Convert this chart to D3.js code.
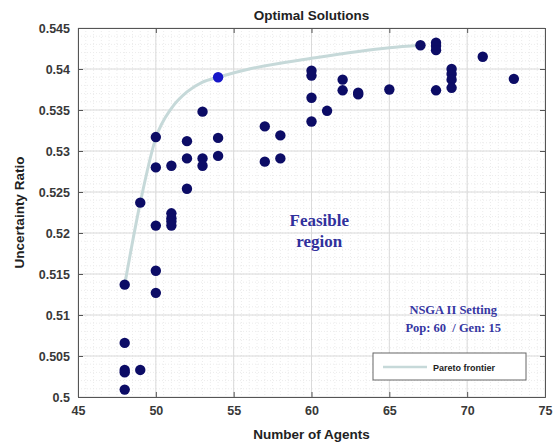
<!DOCTYPE html>
<html>
<head>
<meta charset="utf-8">
<script src="https://cdn.jsdelivr.net/npm/d3@7"></script>
<style>
  body { margin: 0; background: #fff; }
  svg text { font-family: "Liberation Sans", Arial, sans-serif; }
</style>
</head>
<body>
<div id="main"></div>
<script>
// solutions
var agents = [48, 48, 48, 48, 48, 49, 49, 50, 50, 50, 50, 50, 51, 51, 51, 51, 51,
    52, 52, 52, 53, 53, 53, 54, 54, 54, 57, 57, 58, 58, 60, 60, 60, 60, 61, 62, 62,
    63, 63, 65, 67, 68, 68, 68, 68, 69, 69, 69, 69, 71, 73];
var ratio = [0.5137, 0.5066, 0.5033, 0.5030, 0.5009, 0.5237, 0.5033,
    0.5317, 0.5280, 0.5209, 0.5154, 0.5127,
    0.5282, 0.5224, 0.5218, 0.5214, 0.5209,
    0.5312, 0.5291, 0.5254, 0.5348, 0.5291, 0.5282,
    0.5390, 0.5316, 0.5294, 0.5330, 0.5287, 0.5319, 0.5291,
    0.5398, 0.5392, 0.5365, 0.5336, 0.5349, 0.5387, 0.5374,
    0.5371, 0.5369, 0.5375, 0.5429, 0.5432, 0.5428, 0.5423, 0.5374,
    0.5400, 0.5394, 0.5387, 0.5377, 0.5415, 0.5388];
var highlighted = 23; // the blue one at (54, 0.539)

// pareto frontier curve
var paretoX = [48, 49, 50, 51, 52, 53, 54, 56, 60, 65, 67];
var paretoY = [0.5137, 0.5237, 0.5316, 0.5352, 0.5372, 0.5384, 0.5390, 0.5400, 0.5413, 0.5426, 0.5429];

var xTicks = [45, 50, 55, 60, 65, 70, 75];
var yTicks = [0.5, 0.505, 0.51, 0.515, 0.52, 0.525, 0.53, 0.535, 0.54, 0.545];
var yTickLabels = ['0.5', '0.505', '0.51', '0.515', '0.52', '0.525', '0.53', '0.535', '0.54', '0.545'];

var W = 560, H = 443;
var margin = { top: 28, right: 15, bottom: 46, left: 78 };
var width = W - margin.left - margin.right,
    height = H - margin.top - margin.bottom;

var svg = d3.select('#main').append('svg')
    .attr('width', W)
    .attr('height', H);

var g = svg.append('g')
    .attr('transform', 'translate(' + margin.left + ',' + margin.top + ')');

var xScale = d3.scaleLinear().domain([45, 75]).range([0, width]);
var yScale = d3.scaleLinear().domain([0.5, 0.545]).range([height, 0]);

// minor grid (dotted)
g.append('g').selectAll('line')
    .data(d3.range(45.5, 75, 0.5))
    .enter().append('line')
    .attr('x1', d => xScale(d)).attr('x2', d => xScale(d))
    .attr('y1', 0).attr('y2', height)
    .attr('stroke', '#ececec')
    .attr('stroke-dasharray', '1,2');
g.append('g').selectAll('line')
    .data(d3.range(1, 45).map(i => 0.5 + i * 0.001))
    .enter().append('line')
    .attr('y1', d => yScale(d)).attr('y2', d => yScale(d))
    .attr('x1', 0).attr('x2', width)
    .attr('stroke', '#ececec')
    .attr('stroke-dasharray', '1,2');

// major grid
g.append('g').selectAll('line')
    .data(xTicks)
    .enter().append('line')
    .attr('x1', d => xScale(d)).attr('x2', d => xScale(d))
    .attr('y1', 0).attr('y2', height)
    .attr('stroke', '#dadada');
g.append('g').selectAll('line')
    .data(yTicks)
    .enter().append('line')
    .attr('y1', d => yScale(d)).attr('y2', d => yScale(d))
    .attr('x1', 0).attr('x2', width)
    .attr('stroke', '#dadada');

// axes, ticks pointing inside like matlab
var xAxis = d3.axisBottom(xScale).tickValues(xTicks).tickSizeInner(-5).tickSizeOuter(0).tickPadding(9);
var yAxis = d3.axisLeft(yScale).tickValues(yTicks)
    .tickFormat((d, i) => yTickLabels[i]).tickSizeInner(-5).tickSizeOuter(0).tickPadding(8);

var xAxisEl = g.append('g').attr('transform', 'translate(0,' + height + ')').call(xAxis);
var yAxisEl = g.append('g').call(yAxis);
g.append('g').call(d3.axisTop(xScale).tickValues(xTicks).tickSize(-5).tickFormat(''));
g.append('g').attr('transform', 'translate(' + width + ',0)')
    .call(d3.axisRight(yScale).tickValues(yTicks).tickSize(-5).tickFormat(''));

g.selectAll('.domain').attr('stroke', '#555');
g.selectAll('.tick line').attr('stroke', '#555');
g.selectAll('.tick text')
    .attr('fill', '#383838')
    .style('font-size', '12.5px')
    .style('font-weight', 'bold');

// pareto frontier
var line = d3.line()
    .x(d => xScale(d[0]))
    .y(d => yScale(d[1]))
    .curve(d3.curveMonotoneX);

g.append('path')
    .datum(paretoX.map((x, i) => [x, paretoY[i]]))
    .attr('d', line)
    .attr('fill', 'none')
    .attr('stroke', '#c6d9d9')
    .attr('stroke-width', 3);

// solutions
g.append('g').selectAll('circle')
    .data(agents.map((a, i) => ({ a: a, r: ratio[i], i: i })))
    .enter().append('circle')
    .attr('cx', d => xScale(d.a))
    .attr('cy', d => yScale(d.r))
    .attr('r', 5.2)
    .attr('fill', d => d.i === highlighted ? '#1616c8' : '#0c0c66');

// annotations
var serif = '"Liberation Serif", "DejaVu Serif", serif';
g.append('text')
    .attr('x', xScale(60.5)).attr('y', 198)
    .attr('text-anchor', 'middle')
    .style('font-family', serif).style('font-weight', 'bold').style('font-size', '17px')
    .attr('fill', '#30309c')
    .text('Feasible');
g.append('text')
    .attr('x', xScale(60.5)).attr('y', 219)
    .attr('text-anchor', 'middle')
    .style('font-family', serif).style('font-weight', 'bold').style('font-size', '17px')
    .attr('fill', '#30309c')
    .text('region');

g.append('text')
    .attr('x', xScale(69.1)).attr('y', 286)
    .attr('text-anchor', 'middle')
    .style('font-family', serif).style('font-weight', 'bold').style('font-size', '12.5px')
    .attr('fill', '#3636a2')
    .text('NSGA II Setting');
g.append('text')
    .attr('x', xScale(69.1)).attr('y', 304)
    .attr('text-anchor', 'middle')
    .style('font-family', serif).style('font-weight', 'bold').style('font-size', '12.5px')
    .style('white-space', 'pre')
    .attr('fill', '#3636a2')
    .text('Pop: 60  / Gen: 15');

// legend
var legend = g.append('g').attr('transform', 'translate(' + (373 - margin.left) + ',' + (353 - margin.top) + ')');
legend.append('rect')
    .attr('width', 153).attr('height', 27)
    .attr('fill', '#fff')
    .attr('stroke', '#666').attr('stroke-width', 1);
legend.append('line')
    .attr('x1', 10).attr('x2', 54).attr('y1', 14).attr('y2', 14)
    .attr('stroke', '#c6d9d9').attr('stroke-width', 2.5);
legend.append('text')
    .attr('x', 60).attr('y', 17.5)
    .style('font-size', '9px').style('font-weight', 'bold')
    .attr('fill', '#222')
    .text('Pareto frontier');

// titles
svg.append('text')
    .attr('x', margin.left + width / 2).attr('y', 20)
    .attr('text-anchor', 'middle')
    .style('font-size', '13.5px').style('font-weight', 'bold')
    .attr('fill', '#222')
    .text('Optimal Solutions');
svg.append('text')
    .attr('x', margin.left + width / 2).attr('y', 439)
    .attr('text-anchor', 'middle')
    .style('font-size', '13.5px').style('font-weight', 'bold')
    .attr('fill', '#222')
    .text('Number of Agents');
svg.append('text')
    .attr('transform', 'translate(24,' + (margin.top + height / 2) + ') rotate(-90)')
    .attr('text-anchor', 'middle')
    .style('font-size', '13.5px').style('font-weight', 'bold')
    .attr('fill', '#222')
    .text('Uncertainty Ratio');
</script>
</body>
</html>
